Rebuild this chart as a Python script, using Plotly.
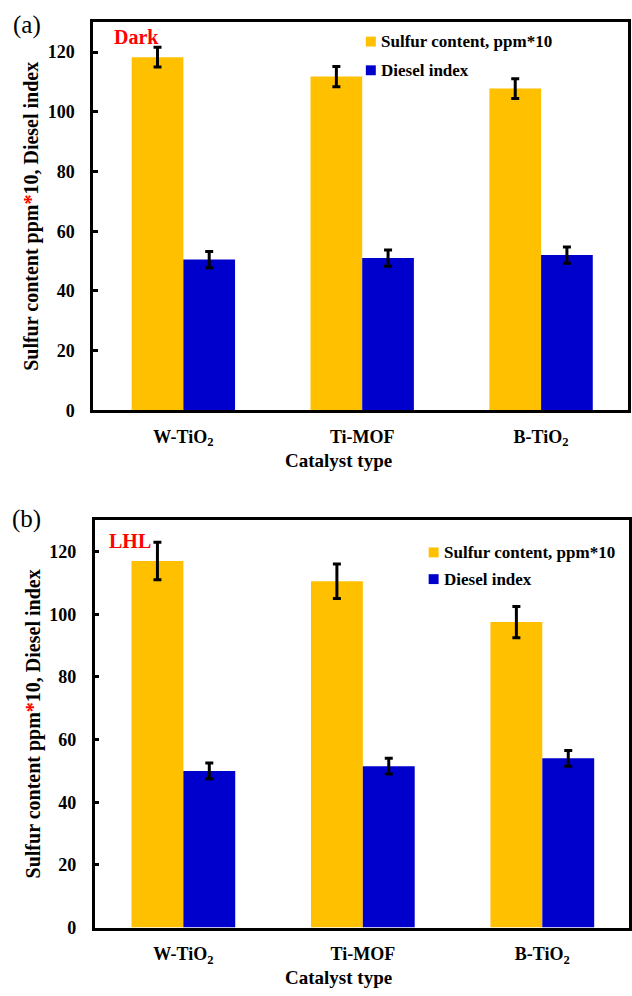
import plotly.graph_objects as go

# Catalyst categories (HTML subscripts for TiO2)
catalysts = ["<b>W-TiO<sub>2</sub></b>", "<b>Ti-MOF</b>", "<b>B-TiO<sub>2</sub></b>"]
series_names = ["Sulfur content, ppm*10", "Diesel index"]
x_title = "Catalyst type"

# Panel (a): Dark conditions
dark_sulfur = [118.3, 111.8, 107.8]
dark_sulfur_err = [3.3, 3.4, 3.3]
dark_diesel = [50.5, 51.0, 52.0]
dark_diesel_err = [2.7, 2.7, 2.7]

# Panel (b): LHL conditions
lhl_sulfur = [117.0, 110.5, 97.5]
lhl_sulfur_err = [6.0, 5.5, 5.0]
lhl_diesel = [50.0, 51.5, 54.0]
lhl_diesel_err = [2.5, 2.5, 2.5]

ORANGE = "#FFC000"
BLUE = "#0000CC"
COLORS = [ORANGE, BLUE]
FONT = "'Liberation Serif', 'Times New Roman', serif"
W, H = 632, 996


def px(x):
    return x / W


def py(y):
    return 1 - y / H


fig = go.Figure()


def add_panel(sulfur, s_err, diesel, d_err, xa, ya):
    for vals, errs, name, color in ((sulfur, s_err, series_names[0], COLORS[0]),
                                    (diesel, d_err, series_names[1], COLORS[1])):
        fig.add_trace(go.Bar(
            x=catalysts, y=vals, name=name, showlegend=False,
            marker=dict(color=color, line=dict(width=0)),
            error_y=dict(type="data", array=errs, color="black", thickness=3, width=4),
            xaxis=xa, yaxis=ya,
        ))


add_panel(dark_sulfur, dark_sulfur_err, dark_diesel, dark_diesel_err, "x", "y")
add_panel(lhl_sulfur, lhl_sulfur_err, lhl_diesel, lhl_diesel_err, "x2", "y2")

y_title = "<b>Sulfur content ppm<span style='color:red'>*</span>10, Diesel index</b>"
y_ticks = [0, 20, 40, 60, 80, 100, 120]

xcommon = dict(
    showline=True, linecolor="black", linewidth=2.5,
    mirror=True, ticks="", ticklabelstandoff=8,
    tickfont=dict(family=FONT, size=18, color="black"),
    showgrid=False, zeroline=False,
)
ycommon = dict(
    range=[0, 130], tickvals=y_ticks, ticktext=[f"<b>{v}</b>" for v in y_ticks],
    showline=True, linecolor="black", linewidth=2.5, mirror=True,
    ticks="inside", ticklen=5, tickwidth=2.5, tickcolor="black",
    ticklabelstandoff=12,
    tickfont=dict(family=FONT, size=18, color="black"),
    title=dict(text=y_title, font=dict(family=FONT, size=20, color="black"),
               standoff=4),
    showgrid=False, zeroline=False,
)

# Hand-placed legend entries: (left px of square, top px of first square, row step)
legend_spots = [(367, 37, 29), (430, 553, 27)]
shapes = []
annotations = []
for lx, ty, step in legend_spots:
    for i, (name, color) in enumerate(zip(series_names, COLORS)):
        top = ty + i * step
        shapes.append(dict(type="rect", xref="paper", yref="paper",
                           x0=px(lx), x1=px(lx + 10), y0=py(top + 10), y1=py(top),
                           fillcolor=color, line=dict(width=0)))
        annotations.append(dict(text=f"<b>{name}</b>", x=px(lx + 13), y=py(top + 5),
                                xref="paper", yref="paper", xanchor="left", yanchor="middle",
                                showarrow=False,
                                font=dict(family=FONT, size=17, color="black")))

# x-axis titles, set slightly left of the axis centre
for ty in (465, 987):
    annotations.append(dict(text=f"<b>{x_title}</b>", x=px(340), y=py(ty),
                            xref="paper", yref="paper", xanchor="center", yanchor="middle",
                            showarrow=False, font=dict(family=FONT, size=19, color="black")))

annotations += [
    dict(text="(a)", x=px(27), y=py(25), xref="paper", yref="paper", xanchor="center",
         yanchor="middle", showarrow=False, font=dict(family=FONT, size=25, color="black")),
    dict(text="(b)", x=px(27), y=py(524), xref="paper", yref="paper", xanchor="center",
         yanchor="middle", showarrow=False, font=dict(family=FONT, size=25, color="black")),
    dict(text="<b>Dark</b>", x=px(112), y=py(37), xref="paper", yref="paper", xanchor="left",
         yanchor="middle", showarrow=False, font=dict(family=FONT, size=20, color="red")),
    dict(text="<b>LHL</b>", x=px(107), y=py(546), xref="paper", yref="paper", xanchor="left",
         yanchor="middle", showarrow=False, font=dict(family=FONT, size=20, color="red")),
]

fig.update_layout(
    width=W, height=H,
    margin=dict(l=0, r=0, t=0, b=0),
    paper_bgcolor="white", plot_bgcolor="white",
    barmode="group", bargap=0.422, bargroupgap=0,
    font=dict(family=FONT, color="black"),
    xaxis=dict(domain=[px(93.5), px(630)], range=[-0.504, 2.486], anchor="y", **xcommon),
    yaxis=dict(domain=[py(414.5), py(22.5)], anchor="x", **ycommon),
    xaxis2=dict(domain=[px(95), px(631)], range=[-0.494, 2.483], anchor="y2", **xcommon),
    yaxis2=dict(domain=[py(937), py(525.5)], anchor="x2", **ycommon),
    shapes=shapes,
    annotations=annotations,
)

fig.write_html("out.html")
